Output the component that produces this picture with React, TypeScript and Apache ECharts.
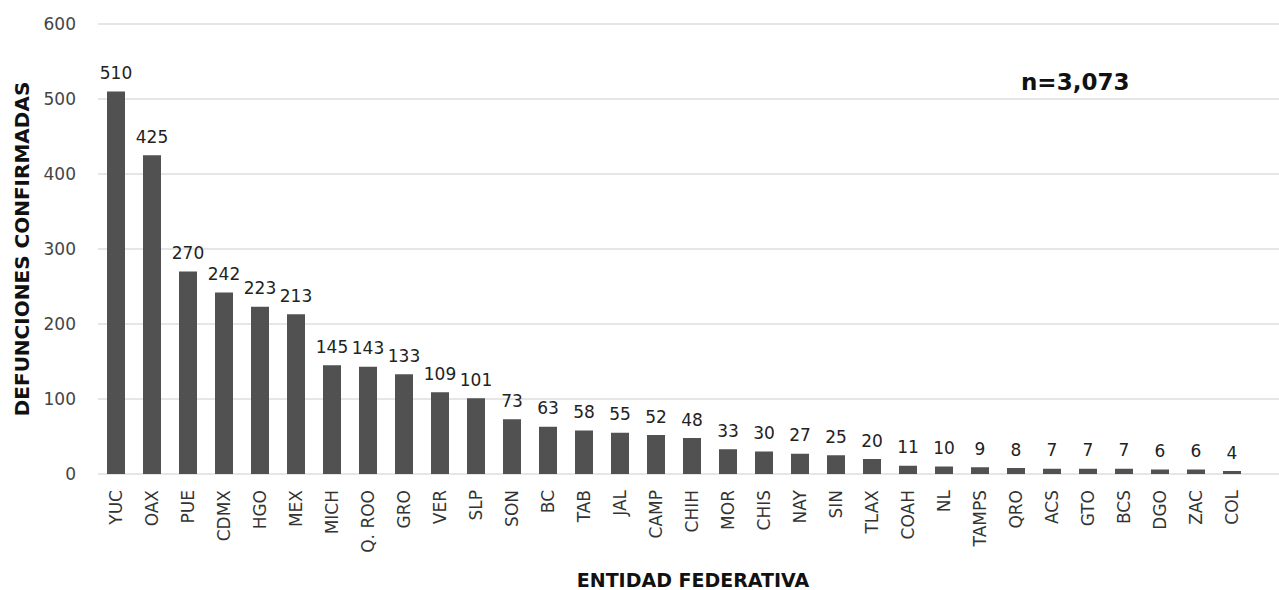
import React, { useEffect, useRef } from "react";
import * as echarts from "echarts";

const categories = ["YUC","OAX","PUE","CDMX","HGO","MEX","MICH","Q. ROO","GRO","VER","SLP","SON","BC","TAB","JAL","CAMP","CHIH","MOR","CHIS","NAY","SIN","TLAX","COAH","NL","TAMPS","QRO","ACS","GTO","BCS","DGO","ZAC","COL"];
const values = [510,425,270,242,223,213,145,143,133,109,101,73,63,58,55,52,48,33,30,27,25,20,11,10,9,8,7,7,7,6,6,4];
const yTicks = { min: 0, max: 600, interval: 100 };
const totalLabel = "n=3,073";
const yName = "DEFUNCIONES CONFIRMADAS";
const xName = "ENTIDAD FEDERATIVA";

const FONT = "DejaVu Sans";

export default function App() {
  const ref = useRef<HTMLDivElement>(null);
  useEffect(() => {
    if (!ref.current) return;
    const chart = echarts.init(ref.current, null, { renderer: "svg" });
    const gridTop = 24;
    const gridBottom = 116;
    chart.setOption({
      animation: false,
      textStyle: { fontFamily: FONT },
      title: {
        text: totalLabel,
        left: 1016,
        top: 65,
        textStyle: { fontFamily: FONT, fontWeight: "bold", fontSize: 23, color: "#111" },
      },
      grid: [
        { left: 98, right: 29, top: gridTop, bottom: gridBottom, containLabel: false, outerBoundsMode: "none" },
        { left: 98, right: 0, top: gridTop, bottom: gridBottom, containLabel: false, outerBoundsMode: "none" },
      ],
      xAxis: [
        {
          type: "category",
          gridIndex: 0,
          data: categories,
          axisLine: { show: false },
          axisTick: { show: false },
          axisLabel: { rotate: 90, margin: 16, fontSize: 17, color: "#333", fontFamily: FONT },
          name: xName,
          nameLocation: "middle",
          nameGap: 96,
          nameTextStyle: {
            fontWeight: "bold",
            fontSize: 19,
            lineHeight: 19,
            color: "#111",
            fontFamily: FONT,
            padding: [0, 0, 0, 38],
          },
        },
        { type: "value", gridIndex: 1, show: false, min: 0, max: 1 },
      ],
      yAxis: [
        {
          type: "value",
          gridIndex: 0,
          min: yTicks.min,
          max: yTicks.max,
          interval: yTicks.interval,
          splitLine: { show: false },
          axisLabel: { fontSize: 17, color: "#444", margin: 22, fontFamily: FONT },
          name: yName,
          nameLocation: "middle",
          nameGap: 66,
          nameTextStyle: { fontWeight: "bold", fontSize: 20, color: "#111", fontFamily: FONT },
        },
        {
          type: "value",
          gridIndex: 1,
          min: yTicks.min,
          max: yTicks.max,
          interval: yTicks.interval,
          axisLabel: { show: false },
          axisLine: { show: false },
          axisTick: { show: false },
          splitLine: { show: true, lineStyle: { color: "#e6e6e6", width: 2 } },
        },
      ],
      series: [
        {
          type: "bar",
          xAxisIndex: 0,
          yAxisIndex: 0,
          data: values,
          barWidth: 18,
          itemStyle: { color: "#515151" },
          label: {
            show: true,
            position: "top",
            distance: 10,
            fontSize: 17,
            color: "#222",
            fontFamily: FONT,
          },
        },
      ],
    });
    return () => chart.dispose();
  }, []);
  return <div ref={ref} style={{ width: 1279, height: 590, position: "absolute", left: 0, top: 0 }} />;
}
